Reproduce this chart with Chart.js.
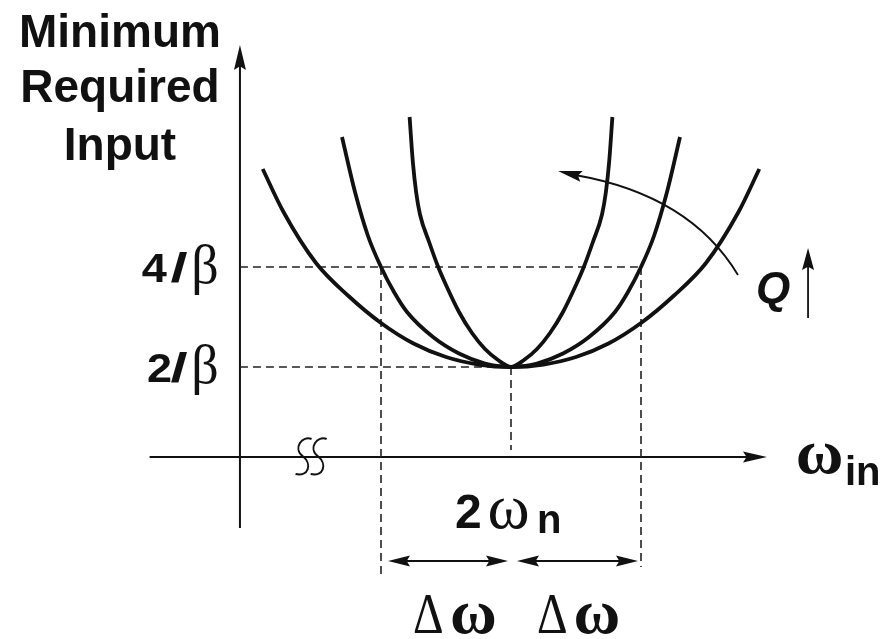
<!DOCTYPE html>
<html>
<head>
<meta charset="utf-8">
<script src="https://cdn.jsdelivr.net/npm/chart.js@4/dist/chart.umd.min.js"></script>
<style>
  html, body { margin: 0; padding: 0; background: #fff; }
  #wrap { width: 891px; height: 639px; position: relative; }
</style>
</head>
<body>
<div id="wrap"><canvas id="chart"></canvas></div>
<script>
// x: offset from ωn in units of Δω, y: minimum required input in units of 1/β
const lowQOffsets = [0, 0.25, 0.5, 0.75, 1.0, 1.25, 1.5, 1.75, 1.91];
const lowQValues = [2, 2.05, 2.2, 2.47, 2.88, 3.42, 4.08, 5.1, 5.96];
const midQOffsets = [0, 0.2, 0.4, 0.6, 0.8, 0.9, 1.0, 1.1, 1.2, 1.3];
const midQValues = [2, 2.07, 2.27, 2.6, 3.1, 3.5, 4.0, 4.62, 5.5, 6.6];
const highQOffsets = [0, 0.1, 0.2, 0.3, 0.4, 0.5, 0.56, 0.63, 0.7, 0.73, 0.755, 0.78];
const highQValues = [2, 2.14, 2.36, 2.68, 3.1, 3.64, 4.0, 4.5, 5.05, 5.5, 6.1, 7.0];

const levelValues = [2, 4];
const levelDigits = ["2", "4"];
const markerOffsets = [-1, 1];

const axisX = -2.085;
const axisY = 0.2;
const ink = "#111";
const guide = "#222";
const sans = "'Liberation Sans', Arial, sans-serif";
const serif = "'Liberation Serif', 'Times New Roman', serif";

const mirrorCurve = (offsets, values) => {
  const left = offsets.slice(1).map((d, i) => ({ x: -d, y: values[i + 1] })).reverse();
  const right = offsets.map((d, i) => ({ x: d, y: values[i] }));
  return left.concat(right);
};

const curveSet = (data) => ({
  data,
  showLine: true,
  borderColor: ink,
  borderWidth: 3.8,
  pointRadius: 0,
  cubicInterpolationMode: "monotone",
  order: 1,
});

const guideSet = (data) => ({
  data,
  showLine: true,
  borderColor: guide,
  borderWidth: 1.6,
  borderDash: [8, 5],
  pointRadius: 0,
  tension: 0,
  order: 2,
});

const guides = [
  guideSet([{ x: axisX, y: levelValues[1] }, { x: markerOffsets[1], y: levelValues[1] }]),
  guideSet([{ x: axisX, y: levelValues[0] }, { x: 0, y: levelValues[0] }]),
  guideSet([{ x: markerOffsets[0], y: levelValues[1] }, { x: markerOffsets[0], y: -2.2 }]),
  guideSet([{ x: markerOffsets[1], y: levelValues[1] }, { x: markerOffsets[1], y: -2.0 }]),
  guideSet([{ x: 0, y: levelValues[0] }, { x: 0, y: 0.34 }]),
];

const arrowHead = (ctx, x0, y0, x1, y1, len, half) => {
  const a = Math.atan2(y1 - y0, x1 - x0);
  const c = Math.cos(a), s = Math.sin(a);
  ctx.beginPath();
  ctx.moveTo(x1, y1);
  ctx.lineTo(x1 - len * c + half * s, y1 - len * s - half * c);
  ctx.lineTo(x1 - len * 0.85 * c, y1 - len * 0.85 * s);
  ctx.lineTo(x1 - len * c - half * s, y1 - len * s + half * c);
  ctx.closePath();
  ctx.fill();
};

const drawText = (ctx, text, x, y, font, sx = 1) => {
  ctx.save();
  ctx.translate(x, y);
  ctx.scale(sx, 1);
  ctx.font = font;
  ctx.fillText(text, 0, 0);
  ctx.restore();
};

const diagram = {
  id: "diagram",
  beforeDatasetsDraw(chart) {
    const { ctx, scales: { x, y } } = chart;
    const px = (v) => x.getPixelForValue(v);
    const py = (v) => y.getPixelForValue(v);
    ctx.save();
    ctx.strokeStyle = ink;
    ctx.fillStyle = ink;
    ctx.lineWidth = 2;
    // vertical axis
    ctx.beginPath();
    ctx.moveTo(px(axisX), py(-1.22));
    ctx.lineTo(px(axisX), py(8.3));
    ctx.stroke();
    arrowHead(ctx, px(axisX), py(0), px(axisX), py(8.44), 25, 6);
    // horizontal axis
    ctx.beginPath();
    ctx.moveTo(px(-2.78), py(axisY));
    ctx.lineTo(px(1.85), py(axisY));
    ctx.stroke();
    arrowHead(ctx, px(0), py(axisY), px(1.969), py(axisY), 24, 5.5);
    // axis break squiggle
    ctx.lineWidth = 2;
    [-1.588, -1.472].forEach((v) => {
      const cx = px(v), cy = py(axisY);
      ctx.beginPath();
      ctx.moveTo(cx + 7, cy - 18);
      ctx.bezierCurveTo(cx - 2, cy - 22, cx - 12, cy - 9, cx - 2, cy - 1);
      ctx.bezierCurveTo(cx + 8, cy + 7, cx + 4, cy + 20, cx - 9, cy + 17);
      ctx.stroke();
    });
    ctx.restore();
  },
  afterDatasetsDraw(chart) {
    const { ctx, scales: { x, y } } = chart;
    const px = (v) => x.getPixelForValue(v);
    const py = (v) => y.getPixelForValue(v);
    ctx.save();
    ctx.strokeStyle = ink;
    ctx.fillStyle = ink;
    ctx.textBaseline = "alphabetic";

    // Δω arrows
    ctx.lineWidth = 1.8;
    [[-0.946, -0.023], [0.046, 0.977]].forEach(([a, b]) => {
      ctx.beginPath();
      ctx.moveTo(px(a) + 10, py(-1.88));
      ctx.lineTo(px(b) - 10, py(-1.88));
      ctx.stroke();
      arrowHead(ctx, px(b), py(-1.88), px(a), py(-1.88), 22, 5.5);
      arrowHead(ctx, px(a), py(-1.88), px(b), py(-1.88), 22, 5.5);
    });

    // Q direction arrow
    ctx.lineWidth = 1.8;
    ctx.beginPath();
    ctx.moveTo(px(1.746), py(3.84));
    ctx.quadraticCurveTo(px(1.377), py(5.44), px(0.492), py(5.84));
    ctx.stroke();
    arrowHead(ctx, px(0.55), py(5.81), px(0.362), py(5.92), 24, 5.5);
    ctx.beginPath();
    ctx.moveTo(px(2.285), py(2.98));
    ctx.lineTo(px(2.285), py(4.2));
    ctx.stroke();
    arrowHead(ctx, px(2.285), py(3), px(2.285), py(4.38), 22, 6);

    // title
    ctx.textAlign = "center";
    ctx.font = `bold 46px ${sans}`;
    ctx.fillText("Minimum", px(-3.008), py(8.4));
    ctx.fillText("Required", px(-3.008), py(7.3));
    ctx.fillText("Input", px(-3.008), py(6.14));

    // level labels
    ctx.textAlign = "left";
    levelValues.forEach((v, i) => {
      const base = py(v - 0.29);
      const left = i === 1 ? px(-2.84) : px(-2.8);
      drawText(ctx, levelDigits[i], left, base, `bold 41px ${sans}`, 1.1);
      drawText(ctx, "/", px(-2.62), base, `bold 41px ${sans}`, 1.5);
      drawText(ctx, "β", px(-2.46), base + 1, `54px ${serif}`);
    });

    // ω_in
    drawText(ctx, "ω", px(2.19), py(-0.12), `bold 64px ${serif}`, 1.02);
    drawText(ctx, "in", px(2.569), py(-0.36), `bold 40px ${sans}`);

    // 2ω_n
    drawText(ctx, "2", px(-0.431), py(-1.22), `bold 48px ${sans}`);
    drawText(ctx, "ω", px(-0.18), py(-1.22), `64px ${serif}`);
    drawText(ctx, "n", px(0.2), py(-1.32), `bold 40px ${sans}`);

    // Δω labels
    [[-0.754, -0.47], [0.2, 0.48]].forEach(([d, w]) => {
      drawText(ctx, "Δ", px(d), py(-3.32), `58px ${serif}`, 0.82);
      drawText(ctx, "ω", px(w), py(-3.32), `bold 64px ${serif}`);
    });

    // Q
    drawText(ctx, "Q", px(1.885), py(3.28), `italic bold 44px ${sans}`);
    ctx.restore();
  },
};

new Chart(document.getElementById("chart"), {
  type: "scatter",
  data: {
    datasets: [
      curveSet(mirrorCurve(lowQOffsets, lowQValues)),
      curveSet(mirrorCurve(midQOffsets, midQValues)),
      curveSet(mirrorCurve(highQOffsets, highQValues)),
      ...guides,
    ],
  },
  options: {
    responsive: true,
    maintainAspectRatio: false,
    animation: false,
    layout: { padding: 0 },
    plugins: { legend: { display: false }, tooltip: { enabled: false } },
    scales: {
      x: { type: "linear", display: false, min: -3.9308, max: 2.9231 },
      y: { type: "linear", display: false, min: -3.44, max: 9.34 },
    },
  },
  plugins: [diagram],
});
</script>
</body>
</html>
